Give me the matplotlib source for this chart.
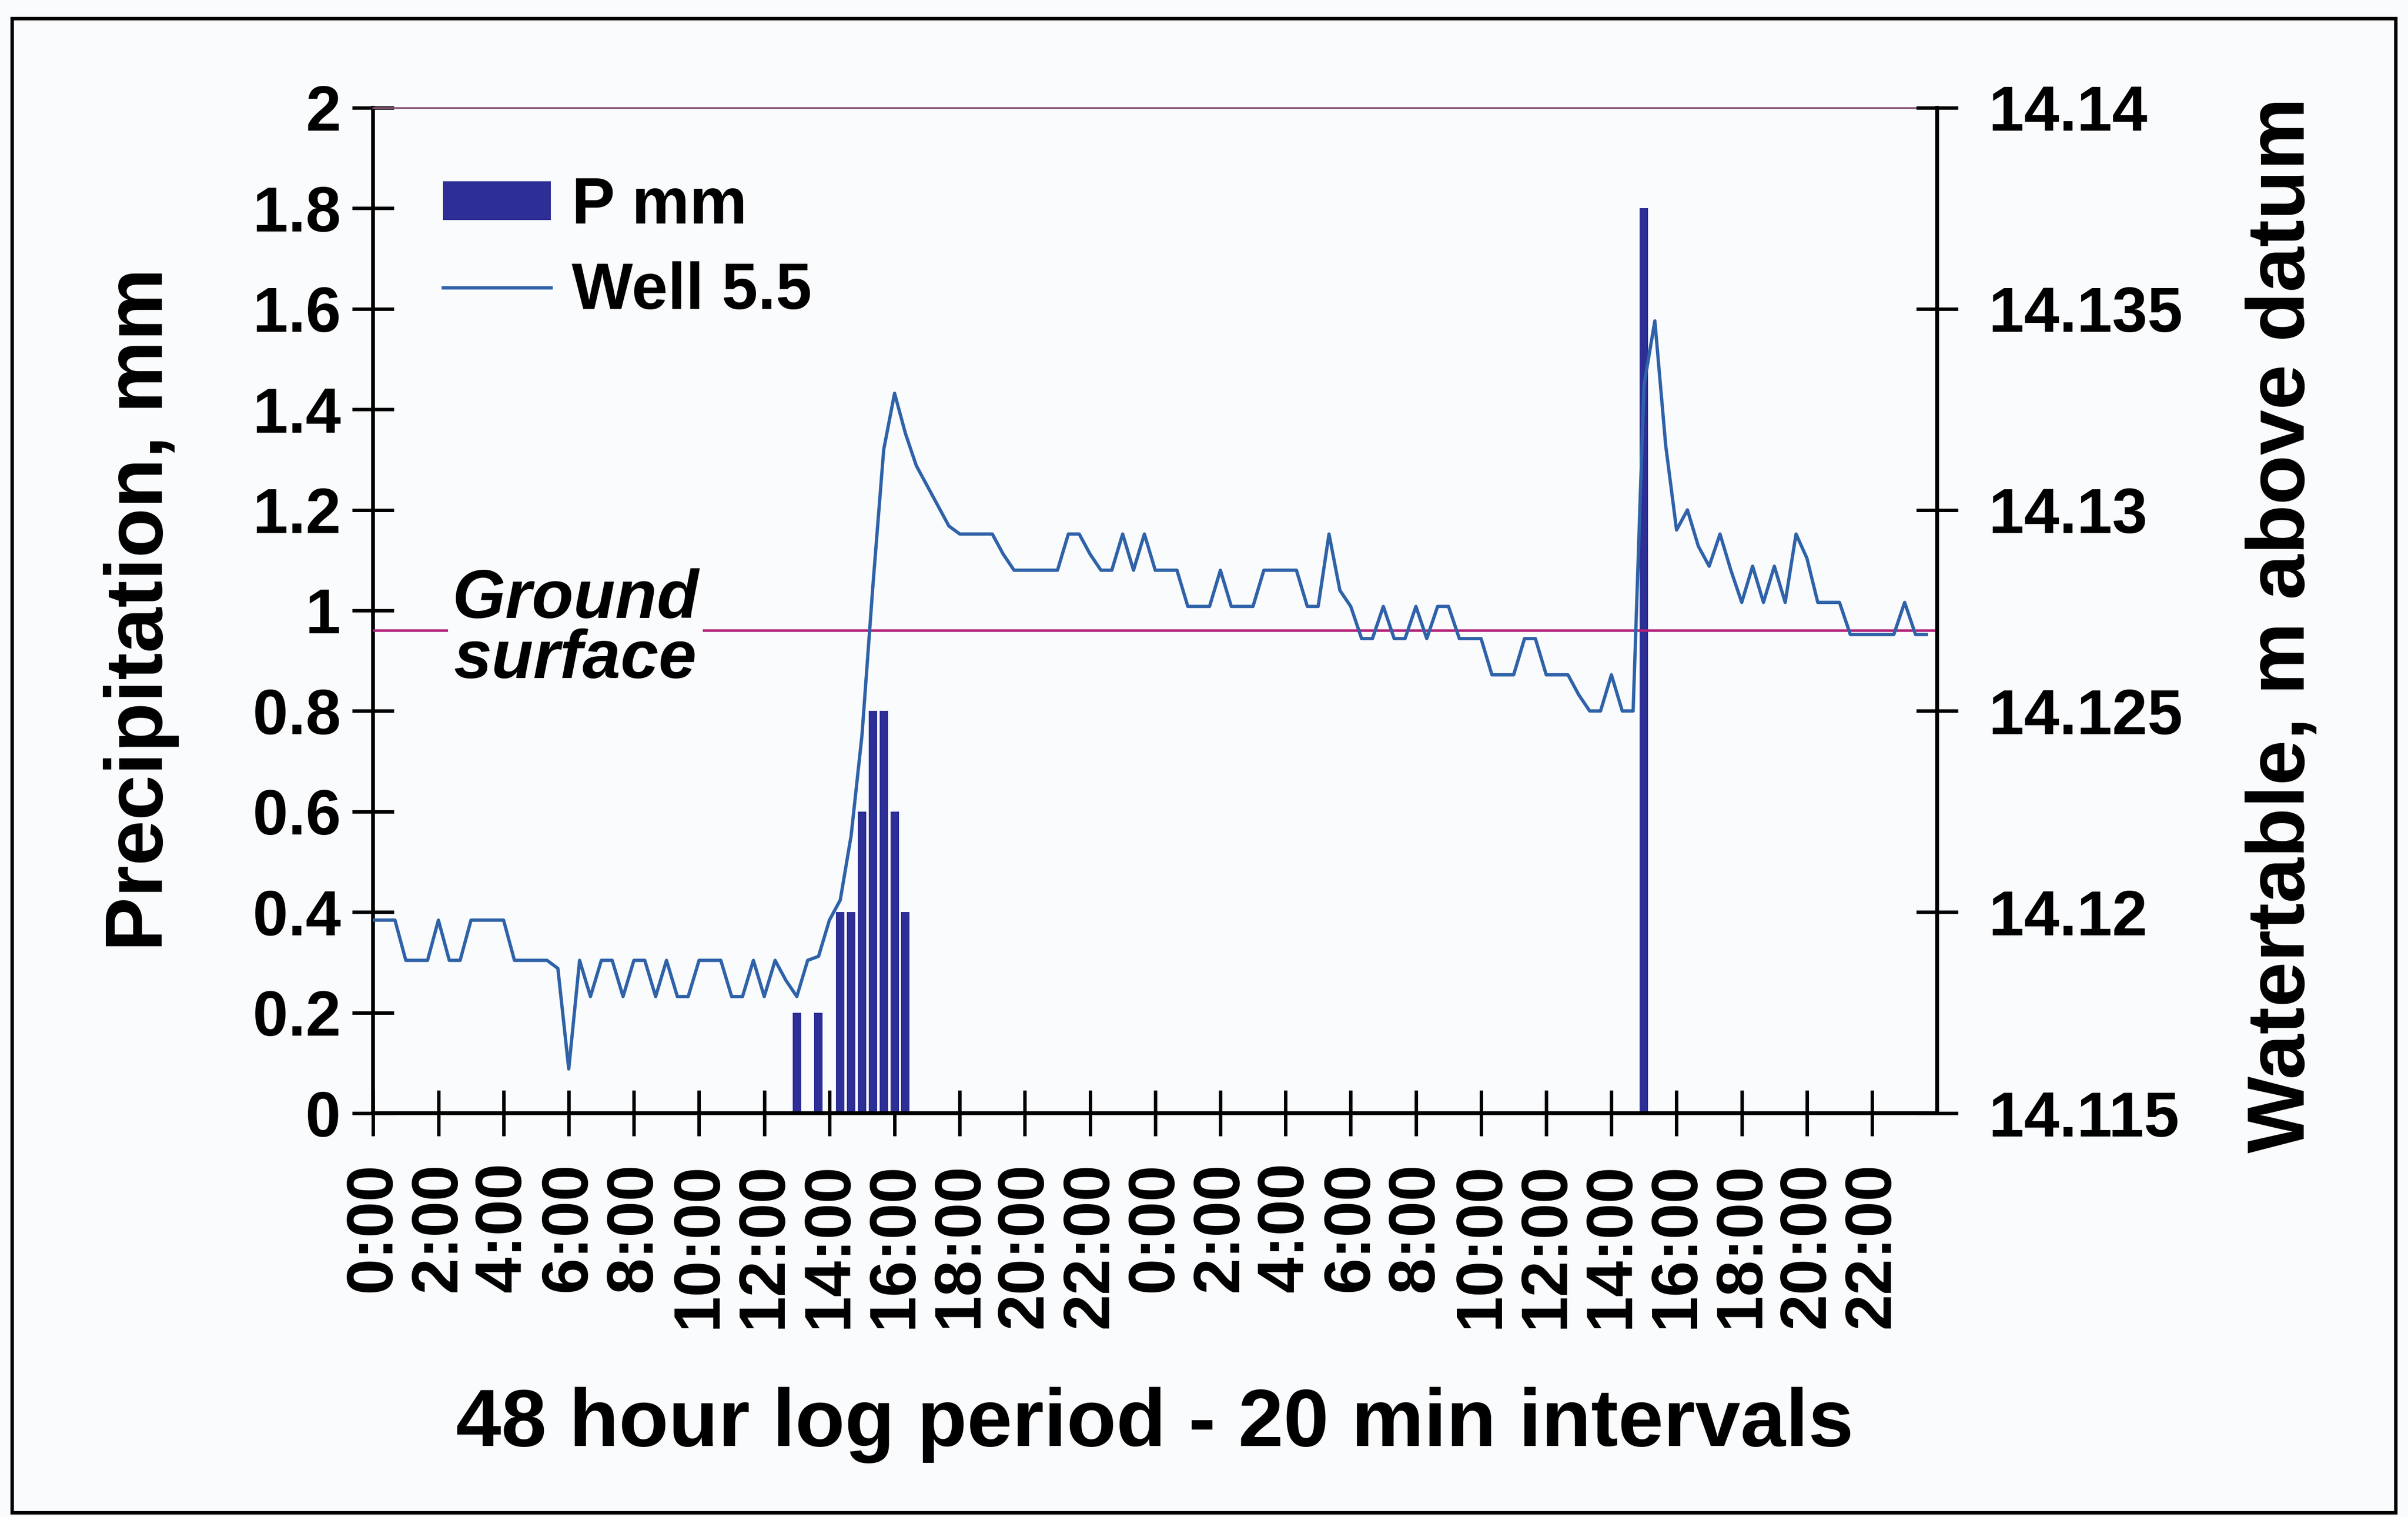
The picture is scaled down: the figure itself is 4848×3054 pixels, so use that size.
import matplotlib
matplotlib.use("Agg")
import matplotlib.pyplot as plt
from matplotlib.patches import Rectangle, Patch
from matplotlib.lines import Line2D
import numpy as np

plt.rcParams['font.family'] = ['Liberation Sans', 'DejaVu Sans']
plt.rcParams['font.weight'] = 'bold'

# ---------------- data ----------------
interval_hours = 20 / 60.0          # 20-minute logging interval
tick_hours = list(range(0, 48, 2))
tick_labels = ["0:00", "2:00", "4:00", "6:00", "8:00", "10:00", "12:00", "14:00",
               "16:00", "18:00", "20:00", "22:00",
               "0:00", "2:00", "4:00", "6:00", "8:00", "10:00", "12:00", "14:00",
               "16:00", "18:00", "20:00", "22:00"]

left_ticks = [0, 0.2, 0.4, 0.6, 0.8, 1.0, 1.2, 1.4, 1.6, 1.8, 2.0]
left_tick_labels = ["0", "0.2", "0.4", "0.6", "0.8", "1", "1.2", "1.4", "1.6", "1.8", "2"]
right_ticks = [14.115, 14.12, 14.125, 14.13, 14.135, 14.14]
right_tick_labels = ["14.115", "14.12", "14.125", "14.13", "14.135", "14.14"]

# precipitation: 20-min slot index and amount (mm)
rain_slot = [39, 41, 43, 44, 45, 46, 47, 48, 49, 117]
rain_mm = [0.2, 0.2, 0.4, 0.4, 0.6, 0.8, 0.8, 0.6, 0.4, 1.8]

# watertable in well 5.5 (m above datum), one value per 20-min slot (144 slots)
well_m = [
    14.1198, 14.1198, 14.1198, 14.1188, 14.1188, 14.1188, 14.1198, 14.1188, 14.1188, 14.1198,
    14.1198, 14.1198, 14.1198, 14.1188, 14.1188, 14.1188, 14.1188, 14.1186, 14.1161, 14.1188,
    14.1179, 14.1188, 14.1188, 14.1179, 14.1188, 14.1188, 14.1179, 14.1188, 14.1179, 14.1179,
    14.1188, 14.1188, 14.1188, 14.1179, 14.1179, 14.1188, 14.1179, 14.1188, 14.1183, 14.1179,
    14.1188, 14.1189, 14.1198, 14.1203, 14.1219, 14.1244, 14.1281, 14.1315, 14.1329, 14.1319,
    14.1311, 14.1306, 14.1301, 14.1296, 14.1294, 14.1294, 14.1294, 14.1294, 14.1289, 14.1285,
    14.1285, 14.1285, 14.1285, 14.1285, 14.1294, 14.1294, 14.1289, 14.1285, 14.1285, 14.1294,
    14.1285, 14.1294, 14.1285, 14.1285, 14.1285, 14.1276, 14.1276, 14.1276, 14.1285, 14.1276,
    14.1276, 14.1276, 14.1285, 14.1285, 14.1285, 14.1285, 14.1276, 14.1276, 14.1294, 14.1280,
    14.1276, 14.1268, 14.1268, 14.1276, 14.1268, 14.1268, 14.1276, 14.1268, 14.1276, 14.1276,
    14.1268, 14.1268, 14.1268, 14.1259, 14.1259, 14.1259, 14.1268, 14.1268, 14.1259, 14.1259,
    14.1259, 14.1254, 14.1250, 14.1250, 14.1259, 14.1250, 14.1250, 14.1331, 14.1347, 14.1316,
    14.1295, 14.1300, 14.1291, 14.1286, 14.1294, 14.1285, 14.1277, 14.1286, 14.1277, 14.1286,
    14.1277, 14.1294, 14.1288, 14.1277, 14.1277, 14.1277, 14.1269, 14.1269, 14.1269, 14.1269,
    14.1269, 14.1277, 14.1269, 14.1269,
]
ground_m = 14.127

# ---------------- figure ----------------
BG = '#FAFBFD'
fig = plt.figure(figsize=(48.48, 30.54), dpi=100, facecolor=BG)
ax = fig.add_axes([0.155, 0.2662, 0.6495, 0.6628])
ax.set_facecolor('none')
ax2 = ax.twinx()

x_rain = np.array(rain_slot) * interval_hours
ax.bar(x_rain, rain_mm, width=0.26, color='#2D2E96', zorder=2)

x_well = np.arange(len(well_m)) * interval_hours
ax2.axhline(ground_m, color='#B21F78', lw=3.6, zorder=2)
ax2.plot(x_well, well_m, color='#2F62A8', lw=4.8, zorder=3)

ax2.text(6.2, ground_m, "Ground\nsurface", style='italic', fontweight='bold',
         fontsize=99, ha='center', va='center', linespacing=0.92, zorder=4,
         bbox=dict(facecolor=BG, edgecolor='none', pad=6))

# axes limits / ticks
ax.set_xlim(0, 48)
ax.set_ylim(0, 2)
ax2.set_ylim(14.115, 14.14)

ax.set_xticks(tick_hours)
ax.set_xticklabels(tick_labels, rotation=90, va='top', ha='center', fontsize=94,
                   fontweight='bold')
ax.set_yticks(left_ticks)
ax.set_yticklabels(left_tick_labels, fontsize=92, fontweight='bold')
ax2.set_yticks(right_ticks)
ax2.set_yticklabels(right_tick_labels, fontsize=92, fontweight='bold')

ax.tick_params(axis='x', direction='inout', length=66, width=5, pad=38)
ax.tick_params(axis='y', direction='inout', length=60, width=5, pad=17)
ax2.tick_params(axis='y', direction='inout', length=60, width=5, pad=45)

for s in ['left', 'bottom']:
    ax.spines[s].set_linewidth(5.5)
    ax.spines[s].set_color('black')
ax.spines['right'].set_visible(False)
ax.spines['top'].set_color('#85506F')
ax.spines['top'].set_linewidth(2.5)
for s in ['left', 'bottom', 'top']:
    ax2.spines[s].set_visible(False)
ax2.spines['right'].set_linewidth(5.5)
ax2.spines['right'].set_color('black')

# legend
handles = [Patch(facecolor='#2D2E96', edgecolor='none'),
           Line2D([0], [0], color='#2F62A8', lw=4.8)]
ax2.legend(handles, ['P mm', 'Well 5.5'], loc='upper left',
           bbox_to_anchor=(0.184, 0.884), bbox_transform=fig.transFigure,
           frameon=False, prop={'size': 94, 'weight': 'bold'},
           handlelength=1.66, handleheight=0.55, handletextpad=0.32,
           labelspacing=0.37, borderpad=0, borderaxespad=0)

# axis titles
fig.text(0.0587, 0.598, "Precipitation, mm", rotation=90, ha='center', va='center',
         fontsize=118, fontweight='bold')
fig.text(0.948, 0.588, "Watertable, m above datum", rotation=90, ha='center',
         va='center', fontsize=118, fontweight='bold')
fig.text(0.4796, 0.0607, "48 hour log period - 20 min intervals", ha='center',
         va='center', fontsize=118, fontweight='bold')

# outer frame
fig.add_artist(Rectangle((0.005, 0.003), 0.9898, 0.9848, transform=fig.transFigure,
                         fill=False, edgecolor='black', lw=5))

fig.savefig("out.png", dpi=100, facecolor=BG)
